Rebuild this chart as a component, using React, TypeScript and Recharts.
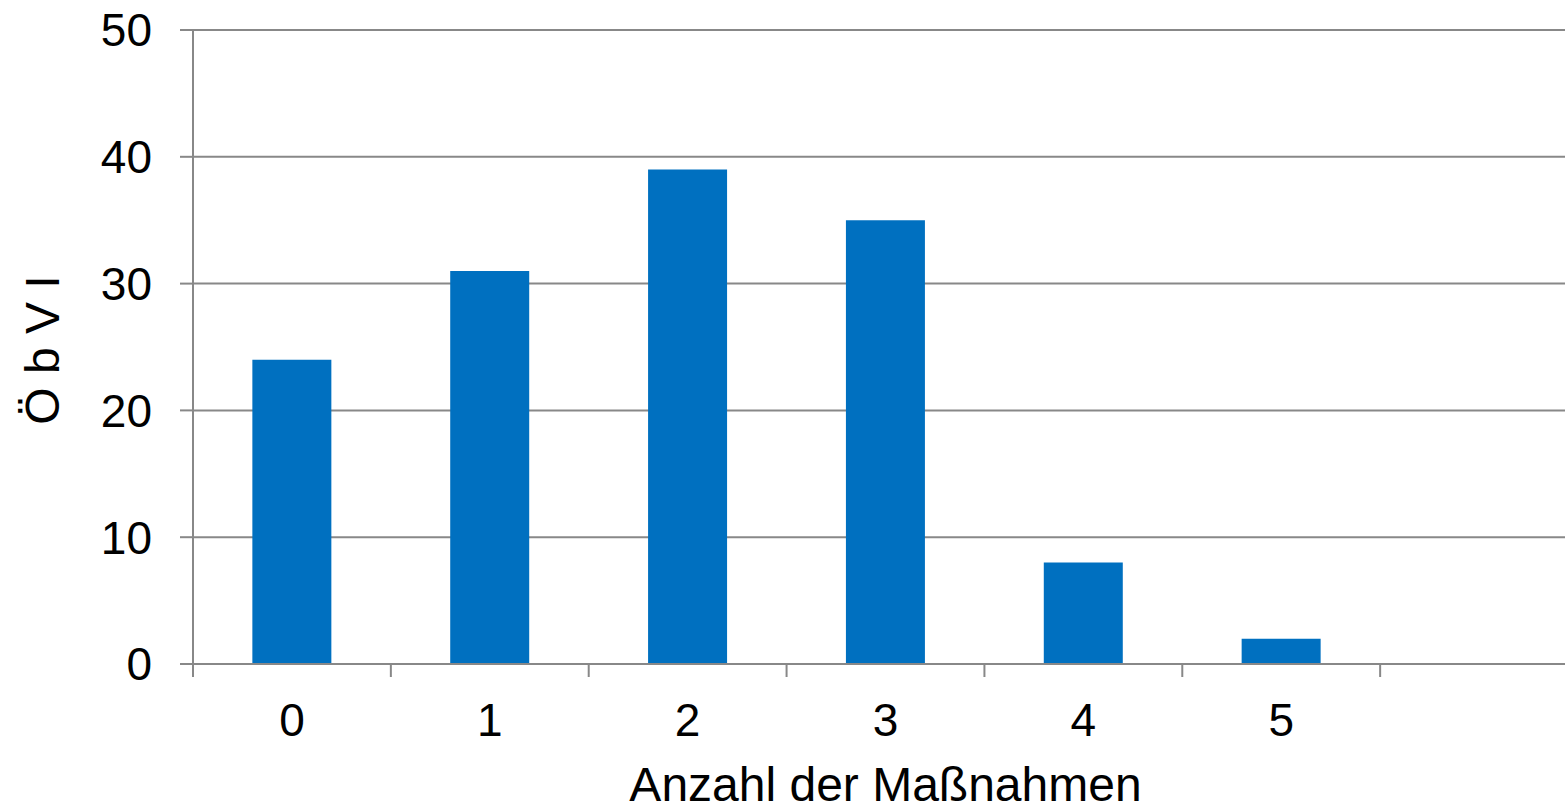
import { Bar, BarChart, CartesianGrid, Label, XAxis, YAxis } from "recharts";

const CATEGORIES = ["0", "1", "2", "3", "4", "5", ""];
const COUNTS: (number | null)[] = [24, 31, 39, 35, 8, 2, null];
const Y_TICKS = [0, 10, 20, 30, 40, 50];

const X_TITLE = "Anzahl der Maßnahmen";
const Y_TITLE = "Ö b V I";

const CHART_W = 1580;
const CHART_H = 806;
const MARGIN = { top: 30, right: 2, bottom: 0, left: 0 };
const Y_AXIS_W = 193;
const X_AXIS_H = 142;
const HALF_BAND = (CHART_W - MARGIN.right - MARGIN.left - Y_AXIS_W) / CATEGORIES.length / 2;

const GRID = "#888888";
const FONT = "'Liberation Sans', Arial, sans-serif";
const TICK_SIZE = 46;
const TITLE_SIZE = 48;

const data = CATEGORIES.map((name, i) => ({ name, value: COUNTS[i] }));

const XTick = ({ x, y, payload }: any) => {
  const left = x - HALF_BAND;
  return (
    <g>
      <line x1={left} x2={left} y1={y - 13} y2={y} stroke={GRID} strokeWidth={2} />
      <text
        x={x}
        y={y + 43}
        textAnchor="middle"
        dominantBaseline="central"
        fontFamily={FONT}
        fontSize={TICK_SIZE}
        fill="#000"
      >
        {payload.value}
      </text>
    </g>
  );
};

const XTitle = ({ viewBox }: any) => (
  <text
    x={viewBox.x + viewBox.width / 2}
    y={viewBox.y + 120}
    textAnchor="middle"
    dominantBaseline="central"
    fontFamily={FONT}
    fontSize={TITLE_SIZE}
    fill="#000"
  >
    {X_TITLE}
  </text>
);

const YTitle = ({ viewBox }: any) => {
  const cx = 42;
  const cy = viewBox.y + viewBox.height / 2 + 3;
  return (
    <text
      x={cx}
      y={cy}
      transform={`rotate(-90 ${cx} ${cy})`}
      textAnchor="middle"
      dominantBaseline="central"
      fontFamily={FONT}
      fontSize={TITLE_SIZE}
      fill="#000"
    >
      {Y_TITLE}
    </text>
  );
};

export default function App() {
  return (
    <div
      style={{
        position: "absolute",
        left: 0,
        top: 0,
        width: 1565,
        height: CHART_H,
        overflow: "hidden",
        background: "#fff",
      }}
    >
      <BarChart
        width={CHART_W}
        height={CHART_H}
        data={data}
        margin={MARGIN}
        barCategoryGap="30%"
      >
        <CartesianGrid vertical={false} stroke={GRID} strokeWidth={2} />
        <XAxis
          dataKey="name"
          height={X_AXIS_H}
          axisLine={{ stroke: GRID, strokeWidth: 2 }}
          tickLine={false}
          tickSize={13}
          tickMargin={0}
          interval={0}
          tick={<XTick />}
        >
          <Label content={<XTitle />} />
        </XAxis>
        <YAxis
          width={Y_AXIS_W}
          domain={[0, 50]}
          ticks={Y_TICKS}
          interval={0}
          axisLine={{ stroke: GRID, strokeWidth: 2 }}
          tickLine={{ stroke: GRID, strokeWidth: 2 }}
          tickSize={13}
          tickMargin={28}
          tick={{ fill: "#000", fontFamily: FONT, fontSize: TICK_SIZE }}
        >
          <Label content={<YTitle />} />
        </YAxis>
        <Bar dataKey="value" fill="#0070C0" isAnimationActive={false} />
      </BarChart>
    </div>
  );
}
